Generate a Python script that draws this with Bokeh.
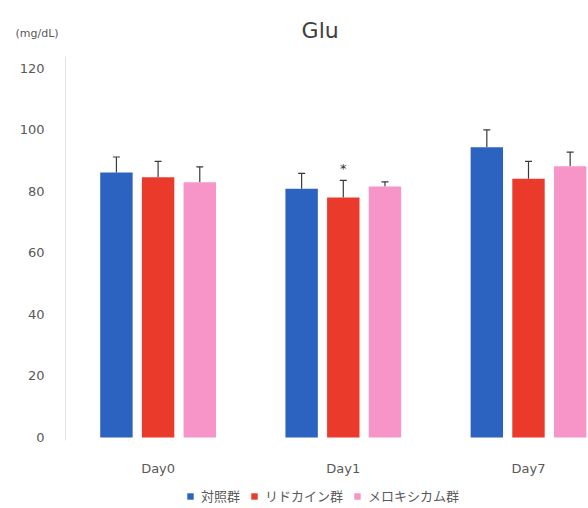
from bokeh.plotting import figure
from bokeh.models import (ColumnDataSource, Whisker, TeeHead, Label, Legend, LegendItem,
                          FixedTicker, Range1d)
from bokeh.embed import file_html
from bokeh.resources import INLINE

# Blood glucose by day and treatment group
days = ["Day0", "Day1", "Day7"]
groups = ["対照群", "リドカイン群", "メロキシカム群"]
control = [86.2, 80.9, 94.4]
control_sd = [5.0, 5.0, 5.6]
lidocaine = [84.6, 78.0, 84.1]
lidocaine_sd = [5.2, 5.6, 5.7]
meloxicam = [83.0, 81.6, 88.2]
meloxicam_sd = [5.0, 1.5, 4.6]
y_ticks = [0, 20, 40, 60, 80, 100, 120]
signif_day = "Day1"

colors = ["#2c62c0", "#ea3a2c", "#f794c8"]
offsets = [-0.225, 0.0, 0.225]
bar_w = 0.175
latin = "DejaVu Sans"
cjk = "Noto Sans CJK JP"

# the frame fills the whole canvas; axes sit at fixed data positions inside it
p = figure(width=588, height=508, output_backend="svg", toolbar_location=None,
           x_range=Range1d(-0.851, 2.324), y_range=Range1d(-23.1, 142.1),
           min_border=0)
p.outline_line_color = None
p.background_fill_color = "white"
p.border_fill_color = "white"
p.xgrid.visible = False
p.ygrid.visible = False

series = [(control, control_sd), (lidocaine, lidocaine_sd), (meloxicam, meloxicam_sd)]
renderers = []
for (vals, sds), off, col in zip(series, offsets, colors):
    xs = [i + off for i in range(len(days))]
    src = ColumnDataSource(dict(x=xs, top=vals, upper=[v + s for v, s in zip(vals, sds)]))
    r = p.vbar(x="x", top="top", width=bar_w, bottom=0, source=src,
               fill_color=col, line_color=None)
    renderers.append(r)
    w = Whisker(base="x", lower="top", upper="upper", source=src,
                line_color="#3a3a3a", line_width=1.2,
                upper_head=TeeHead(size=7, line_color="#3a3a3a", line_width=1.2),
                lower_head=None)
    p.add_layout(w)

# significance mark over the lidocaine bar on Day1
k = days.index(signif_day)
p.add_layout(Label(x=k + offsets[1], y=lidocaine[k] + lidocaine_sd[k] + 1.5, text="*",
                   text_align="center", text_baseline="bottom", text_font=latin,
                   text_font_size="13px", text_color="#333333"))

# y axis
p.yaxis.fixed_location = -0.5
p.yaxis.bounds = (-1, 124)
p.yaxis.ticker = FixedTicker(ticks=y_ticks)
p.yaxis.axis_line_color = "#e4e4e4"
p.yaxis.major_tick_line_color = None
p.yaxis.minor_tick_line_color = None
p.yaxis.major_label_text_font = latin
p.yaxis.major_label_text_font_size = "13px"
p.yaxis.major_label_text_color = "#595959"
p.yaxis.major_label_standoff = 15

# x axis with day labels
p.xaxis.fixed_location = 0
p.xaxis.ticker = FixedTicker(ticks=list(range(len(days))))
p.xaxis.major_label_overrides = {i: d for i, d in enumerate(days)}
p.xaxis.axis_line_color = None
p.xaxis.major_tick_line_color = None
p.xaxis.minor_tick_line_color = None
p.xaxis.major_label_text_font = latin
p.xaxis.major_label_text_font_size = "13px"
p.xaxis.major_label_text_color = "#595959"
p.xaxis.major_label_standoff = 18

# title and unit
p.add_layout(Label(x=0.875, y=132.4, text="Glu", text_align="center", text_baseline="middle",
                   text_font=latin, text_font_size="22px", text_color="#404040"))
p.add_layout(Label(x=-0.77, y=131.4, text="(mg/dL)", text_align="left", text_baseline="middle",
                   text_font=latin, text_font_size="11px", text_color="#595959"))

legend = Legend(items=[LegendItem(label=g, renderers=[r]) for g, r in zip(groups, renderers)],
                orientation="horizontal", location=(186, 3),
                label_text_font=cjk, label_text_font_size="13px",
                label_text_color="#595959", glyph_width=8, glyph_height=8,
                spacing=10, label_standoff=7, padding=0, margin=0,
                border_line_color=None, background_fill_alpha=0)
p.add_layout(legend)

open("out.html", "w").write(file_html(p, INLINE))
